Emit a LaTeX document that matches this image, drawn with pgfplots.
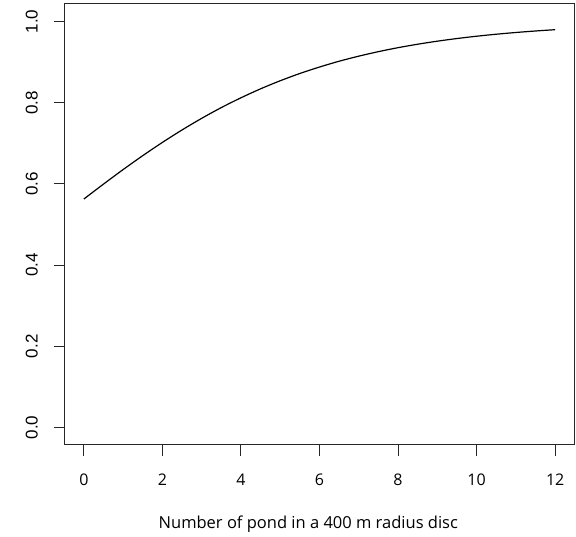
\documentclass[border=0pt]{standalone}
\usepackage{fontspec}
\setmainfont{Liberation Sans}
\newfontfamily\xfont{Open Sans}
\usepackage{pgfplots}
\pgfplotsset{compat=1.18}
\begin{document}
\begin{tikzpicture}
\path[use as bounding box] (-65pt,-92pt) rectangle (511pt,445pt);
\begin{axis}[
  at={(0pt,0pt)}, anchor=south west,
  scale only axis, width=509pt, height=441pt,
  xmin=-0.48, xmax=12.48, ymin=-0.0432, ymax=1.0432,
  xtick={0,2,4,6,8,10,12}, ytick={0,0.2,0.4,0.6,0.8,1.0},
  yticklabels={0.0,0.2,0.4,0.6,0.8,1.0},
  tick align=outside, major tick length=11pt,
  xtick pos=bottom, ytick pos=left,
  axis line style={line width=1pt, black!85},
  every tick/.style={line width=1pt, black!85},
  /pgf/number format/assume math mode=true,
  yticklabel style={rotate=90, anchor=south, inner sep=0pt, font=\fontsize{17}{18}\selectfont},
  xticklabel style={anchor=north, inner sep=0pt, font=\xfont\fontsize{16}{18}\selectfont},
  xticklabel shift=17.5pt,
  yticklabel shift=16pt,
  xlabel={Number of pond in a 400 m radius disc},
  xlabel style={at={(rel axis cs:0.478,0)}, anchor=base, yshift=-84pt, inner sep=0pt, font=\xfont\fontsize{16.5}{18}\selectfont},
]
\addplot[black, line width=1.2pt, smooth] coordinates {
(0,0.5627) (0.5,0.5995) (1,0.6353) (1.5,0.6696) (2,0.7022) (2.5,0.7329)
(3,0.7615) (3.5,0.7880) (4,0.8121) (4.5,0.8342) (5,0.8541) (5.5,0.8720)
(6,0.8879) (6.5,0.9022) (7,0.9147) (7.5,0.9258) (8,0.9356) (8.5,0.9441)
(9,0.9516) (9.5,0.9581) (10,0.9638) (10.5,0.9687) (11,0.9730) (11.5,0.9767)
(12,0.9799)};
\end{axis}
\end{tikzpicture}
\end{document}
